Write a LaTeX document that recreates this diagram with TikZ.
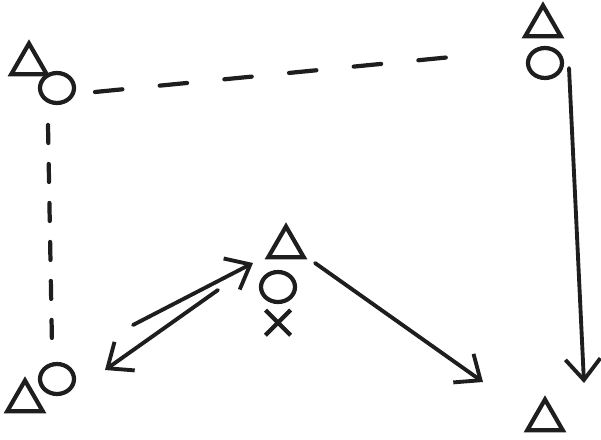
\documentclass[tikz,border=0pt]{standalone}
\usepackage{xcolor}
\usepackage{tikz}
\usetikzlibrary{positioning,arrows.meta,shapes.geometric,shapes.misc,calc}
\definecolor{clapiz}{HTML}{1E1E1E}
\tikzset{
  cono/.style={regular polygon, regular polygon sides=3, draw=clapiz,
    line width=2.4pt, minimum size=0.82cm, inner sep=0pt},
  jug/.style={ellipse, draw=clapiz, line width=2.4pt,
    minimum width=0.68cm, minimum height=0.6cm, inner sep=0pt},
  cruz/.style={cross out, draw=clapiz, line width=2.4pt,
    minimum size=0.42cm, inner sep=0pt},
  flecha/.style={-{Straight Barb[length=4.2mm,width=7mm]}, line width=2.2pt,
    draw=clapiz, line cap=round},
  pase/.style={line width=2.4pt, draw=clapiz, line cap=round},
}

\begin{document}
\begin{tikzpicture}[x=0.02cm, y=-0.02cm]
  \useasboundingbox (0,0) rectangle (601,439);
  % conos y jugadores
  \node[cono] (ctl) at (29,64) {};
  \node[jug] (jtl) at (57,88) {};
  \node[cono] (ctr) at (543,26) {};
  \node[jug] (jtr) at (545,63) {};
  \node[cono] (cc) at (286,247) {};
  \node[jug] (jc) at (278,287) {};
  \node[cruz, below=0.12cm of jc] (xc) {};
  \node[cono] (cbl) at (25,401) {};
  \node[jug] (jbl) at (57,379) {};
  \node[cono] (cbr) at (545,420) {};
  \coordinate (fin) at (483,382);
  % lineas discontinuas
  \draw[pase, dash pattern=on 0.55cm off 0.75cm]
    ($(jtl)+(38,4)$) -- ($(jtr)+(-63,-9)$);
  \draw[pase, dash pattern=on 0.36cm off 0.42cm]
    ($(jtl)+(-9,37)$) -- ($(jbl)+(-5,-34)$);
  % flechas
  \draw[flecha] ($(jtr)+(24,5)$) -- ($(cbr)+(39,-37)$);
  \draw[flecha] ($(jbl)+(76,-54)$) -- ($(jc)+(-25,-24)$);
  \draw[flecha] ($(jc)+(-60,3)$) -- ($(jbl)+(48,-9)$);
  \draw[flecha] ($(cc)+(29,16)$) -- (fin);
\end{tikzpicture}
\end{document}
